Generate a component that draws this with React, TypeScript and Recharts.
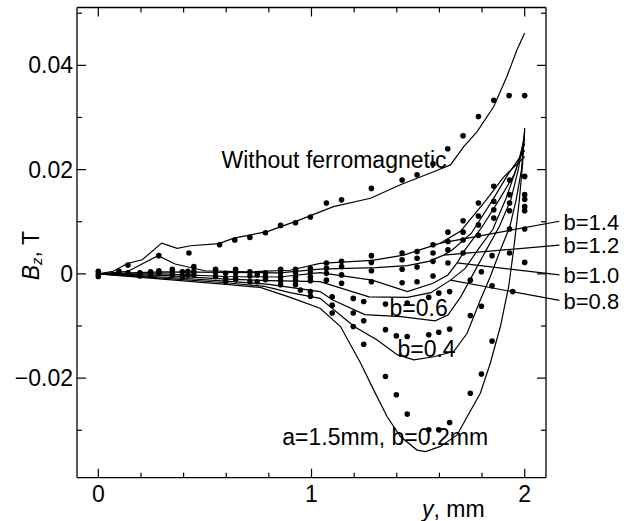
import React from 'react';
import { ComposedChart, Line, Scatter, XAxis, YAxis, ReferenceLine, ReferenceDot, Label } from 'recharts';

type P = { x: number; v: number };
const pts = (a: number[][]): P[] => a.map(([x, v]) => ({ x, v }));

// tick values
const xTicks = [0, 0.2, 0.4, 0.6, 0.8, 1, 1.2, 1.4, 1.6, 1.8, 2];
const xMajor = [0, 1, 2];
const yTicks = [-0.03, -0.02, -0.01, 0, 0.01, 0.02, 0.03, 0.04, 0.05];
const yMajor: Record<string, string> = { '-0.02': '\u22120.02', '0': '0', '0.02': '0.02', '0.04': '0.04' };

// computed curves
const curveWithout = pts([[0,0],[0.07,0.0005],[0.136,0.002],[0.206,0.0027],[0.297,0.0059],[0.37,0.0049],[0.433,0.0054],[0.565,0.0058],[0.636,0.00685],[0.792,0.0081],[0.948,0.0104],[1.103,0.0129],[1.277,0.0145],[1.417,0.0171],[1.573,0.0196],[1.652,0.0209],[1.714,0.0244],[1.777,0.0273],[1.855,0.0321],[1.917,0.0379],[1.964,0.043],[2.0,0.0462]]);
const curveB14 = pts([[0,0],[0.14,0.0005],[0.28,0.0035],[0.36,0.0019],[0.5,0.0006],[0.7,0.0004],[0.9,0.0007],[1.04,0.002],[1.285,0.0026],[1.433,0.0036],[1.605,0.0059],[1.7,0.0082],[1.82,0.0142],[1.9,0.0185],[2.0,0.0225]]);
const curveB12 = pts([[0,0],[0.3,0.0004],[0.6,0.0003],[0.85,0.0002],[1.04,0.0009],[1.3,0.0012],[1.45,0.0016],[1.55,0.0024],[1.62,0.0036],[1.66,0.0046],[1.75,0.0078],[1.85,0.0142],[1.92,0.019],[2.0,0.0237]]);
const curveB10 = pts([[0,0],[0.3,0.0],[0.6,-0.0005],[0.85,-0.0006],[1.04,0.00025],[1.285,-0.0012],[1.45,-0.0034],[1.57,-0.0018],[1.64,-0.0002],[1.683,0.0021],[1.72,0.0046],[1.8,0.009],[1.88,0.0142],[1.95,0.019],[2.0,0.025]]);
const curveB08 = pts([[0,0],[0.3,-0.0003],[0.6,-0.001],[0.8,-0.0013],[1.04,-0.0015],[1.27,-0.0044],[1.45,-0.0045],[1.56,-0.0036],[1.652,-0.0012],[1.72,0.001],[1.78,0.0046],[1.85,0.0085],[1.91,0.0142],[1.96,0.02],[2.0,0.026]]);
const curveB06 = pts([[0,0],[0.3,-0.0006],[0.6,-0.0014],[0.8,-0.002],[0.9,-0.0026],[1.04,-0.0034],[1.1,-0.005],[1.25,-0.0078],[1.42,-0.0082],[1.58,-0.009],[1.64,-0.0079],[1.7,-0.0044],[1.76,0.0001],[1.82,0.0046],[1.88,0.009],[1.935,0.0142],[1.97,0.02],[2.0,0.027]]);
const curveB04 = pts([[0,0],[0.3,-0.0008],[0.6,-0.0017],[0.78,-0.0024],[0.9,-0.0036],[1.04,-0.0047],[1.2,-0.0101],[1.308,-0.0127],[1.402,-0.0155],[1.48,-0.0165],[1.573,-0.0159],[1.667,-0.0149],[1.73,-0.0114],[1.792,-0.005],[1.839,-0.0005],[1.886,0.0046],[1.93,0.009],[1.96,0.0142],[1.985,0.02],[2.0,0.0275]]);
const curveB02 = pts([[0,0],[0.3,-0.001],[0.6,-0.002],[0.76,-0.0026],[0.9,-0.0045],[1.04,-0.0066],[1.136,-0.0101],[1.23,-0.0171],[1.292,-0.0223],[1.355,-0.0274],[1.417,-0.0312],[1.495,-0.0338],[1.535,-0.0341],[1.605,-0.0331],[1.683,-0.0309],[1.73,-0.0274],[1.792,-0.0229],[1.839,-0.0171],[1.886,-0.0101],[1.925,-0.0024],[1.948,0.0046],[1.975,0.0142],[1.99,0.021],[2.0,0.028]]);

// measured points
const dotsOrigin = pts([[0,0.0005],[0,0],[0,-0.0005]]);
const dotsWithout = pts([[0.139,0.0017],[0.425,0.004],[0.569,0.0056],[0.64,0.0065],[0.711,0.007],[0.784,0.0079],[0.855,0.0093],[0.925,0.0098],[0.995,0.0109],[1.07,0.0136],[1.141,0.0142],[1.281,0.0164],[1.425,0.018],[1.495,0.019],[1.57,0.0211],[1.639,0.024],[1.711,0.0265],[1.783,0.0302],[1.855,0.0333],[1.927,0.0342],[2.0,0.0342]]);
const dotsNear = pts([[0.097,0.0005],[0.097,0.0001],[0.139,0.0002],[0.195,0.0002],[0.195,-0.0004],[0.245,0.0004],[0.245,-0.0002],[0.284,0.0035],[0.284,0.0006],[0.284,0.0001],[0.347,0.0009],[0.347,0.0004],[0.347,-0.0002],[0.394,0.0004],[0.394,-0.0005],[0.42,0.0005],[0.42,-0.0002],[0.448,0.0014],[0.448,0.0005],[0.448,-0.0002],[0.55,0.0009],[0.55,0.0003],[0.55,-0.0005],[0.597,0.0001],[0.597,-0.0008],[0.597,-0.0015],[0.644,0.0009],[0.644,0.0002],[0.644,-0.0006],[0.644,-0.0011],[0.711,0.0004],[0.711,-0.0004],[0.711,-0.0015],[0.745,-0.0002],[0.745,-0.0015],[0.784,0.0002],[0.784,-0.0005],[0.784,-0.0011],[0.855,0.0009],[0.855,0.0002],[0.855,-0.0006],[0.855,-0.0013],[0.855,-0.0021],[0.925,0.0009],[0.925,0.0002],[0.925,-0.0006],[0.925,-0.0013],[0.925,-0.0021],[0.948,-0.0031],[0.995,0.001],[0.995,0.0002],[0.995,-0.0006],[0.995,-0.0013],[0.995,-0.0034],[0.995,-0.0043]]);
const dotsUpper = pts([[1.07,0.0021],[1.07,0.0011],[1.07,0.0001],[1.07,-0.0012],[1.141,0.0024],[1.141,0.0014],[1.141,-0.0002],[1.141,-0.0018],[1.281,0.0035],[1.281,0.0022],[1.281,0.0006],[1.281,-0.0015],[1.425,0.004],[1.425,0.0027],[1.425,0.0009],[1.425,-0.0017],[1.495,0.0043],[1.495,0.003],[1.495,0.0013],[1.495,-0.0015],[1.57,0.0056],[1.57,0.004],[1.57,0.0024],[1.57,-0.0004],[1.64,0.008],[1.64,0.0062],[1.64,0.0046],[1.64,0.0021],[1.711,0.0102],[1.711,0.008],[1.711,0.0065],[1.711,0.004],[1.783,0.0136],[1.783,0.0111],[1.783,0.0094],[1.783,0.0074],[1.855,0.0168],[1.855,0.0139],[1.855,0.0123],[1.855,0.0107],[1.929,0.018],[1.929,0.0152],[1.929,0.0136],[1.929,0.0121],[2.0,0.0187],[2.0,0.0152],[2.0,0.0143],[2.0,0.0129],[2.0,0.0121]]);
const dotsLower = pts([[1.097,-0.0044],[1.097,-0.006],[1.097,-0.0075],[1.196,-0.0047],[1.196,-0.0075],[1.196,-0.0101],[1.245,-0.0053],[1.245,-0.009],[1.245,-0.0135],[1.347,-0.0058],[1.347,-0.0107],[1.347,-0.0197],[1.398,-0.0119],[1.398,-0.0232],[1.449,-0.0056],[1.449,-0.012],[1.449,-0.0269],[1.55,-0.0045],[1.55,-0.0117],[1.55,-0.0299],[1.597,-0.0037],[1.597,-0.0112],[1.597,-0.0299],[1.648,-0.0034],[1.648,-0.0106],[1.648,-0.0285],[1.745,-0.0012],[1.745,-0.008],[1.745,-0.0229],[1.797,0.0004],[1.797,-0.0062],[1.797,-0.0192],[1.847,0.0035],[1.847,-0.0023],[1.847,-0.0129],[1.929,0.0086],[1.929,0.004],[1.944,-0.0034],[2.0,0.0086],[2.0,0.0022]]);

// annotation labels: [x, v] at text start / baseline
const labels: { text: string; x: number; v: number }[] = [
  { text: 'Without ferromagnetic', x: 0.578, v: 0.0203 },
  { text: 'b=1.4', x: 2.182, v: 0.0084 },
  { text: 'b=1.2', x: 2.182, v: 0.004 },
  { text: 'b=1.0', x: 2.182, v: -0.0017 },
  { text: 'b=0.8', x: 2.182, v: -0.0067 },
  { text: 'b=0.6', x: 1.366, v: -0.0081 },
  { text: 'b=0.4', x: 1.403, v: -0.0159 },
  { text: 'a=1.5mm, b=0.2mm', x: 0.863, v: -0.0328 },
];
// leader lines [from label, to curve]
const leaders: number[][][] = [
  [[2.163, 0.0101], [1.605, 0.0059]],
  [[2.163, 0.0055], [1.62, 0.0036]],
  [[2.163, -0.0002], [1.683, 0.0021]],
  [[2.163, -0.0051], [1.652, -0.0012]],
];

const FONT = "'Liberation Sans', Arial, sans-serif";
const FS = 23;
const MAJ = 9;
const MIN = 5;

const XTick = (side: 'bottom' | 'top') => (props: any) => {
  const { x, y, payload } = props;
  const major = xMajor.includes(payload.value);
  const len = major ? MAJ : MIN;
  const dir = side === 'bottom' ? -1 : 1;
  return (
    <g>
      <line x1={x} y1={y} x2={x} y2={y + dir * len} stroke="#000" strokeWidth={1.2} />
      {side === 'bottom' && major ? (
        <text x={x} y={y + 24.5} textAnchor="middle" fontFamily={FONT} fontSize={FS} fill="#000">
          {String(payload.value)}
        </text>
      ) : null}
    </g>
  );
};

const YTick = (side: 'left' | 'right') => (props: any) => {
  const { x, y, payload } = props;
  const key = String(Math.round(payload.value * 100) / 100);
  const label = yMajor[key];
  const major = label !== undefined;
  const len = major ? MAJ : MIN;
  const dir = side === 'left' ? 1 : -1;
  return (
    <g>
      <line x1={x} y1={y} x2={x + dir * len} y2={y} stroke="#000" strokeWidth={1.2} />
      {side === 'left' && major ? (
        <text x={x - 4} y={y + 8} textAnchor="end" fontFamily={FONT} fontSize={FS} fill="#000">
          {label}
        </text>
      ) : null}
    </g>
  );
};

const dotShape = (props: any) => <circle cx={props.cx} cy={props.cy} r={2.8} fill="#000" />;

const TextAt = (props: any) => {
  const { viewBox, text, size } = props;
  return (
    <text x={viewBox.x} y={viewBox.y} fontFamily={FONT} fontSize={size || FS} fill="#000">
      {text}
    </text>
  );
};

const YLabel = (props: any) => {
  const { viewBox } = props;
  const cx = 31;
  const cy = viewBox.y + viewBox.height / 2 + 13;
  return (
    <text x={cx} y={cy} transform={`rotate(-90 ${cx} ${cy})`} textAnchor="middle" fontFamily={FONT} fontSize={FS} fill="#000" dominantBaseline="central">
      <tspan fontStyle="italic">B</tspan>
      <tspan fontStyle="italic" fontSize={15} dy={5}>z</tspan>
      <tspan dy={-5}>, T</tspan>
    </text>
  );
};

const XLabel = (props: any) => {
  const { viewBox } = props;
  return (
    <text x={viewBox.x + 345} y={viewBox.y + 39} fontFamily={FONT} fontSize={FS} fill="#000">
      <tspan fontStyle="italic">y</tspan>
      <tspan>, mm</tspan>
    </text>
  );
};

const curves = [curveWithout, curveB14, curveB12, curveB10, curveB08, curveB06, curveB04, curveB02];
const dotSets = [dotsOrigin, dotsWithout, dotsNear, dotsUpper, dotsLower];

export default function App() {
  const axisLine = { stroke: '#000', strokeWidth: 1.3 };
  return (
    <div style={{ position: 'absolute', left: 0, top: 0, background: '#fff' }}>
      <ComposedChart width={635} height={521} margin={{ top: 6.5, right: 88, bottom: 0, left: 0 }}>
        <XAxis type="number" dataKey="x" domain={[-0.1, 2.1]} allowDataOverflow ticks={xTicks} interval={0}
          tick={XTick('bottom')} tickSize={0} tickMargin={0} tickLine={false} axisLine={axisLine} height={43.3}>
          <Label content={<XLabel />} />
        </XAxis>
        <XAxis xAxisId="top" orientation="top" type="number" dataKey="x" domain={[-0.1, 2.1]} allowDataOverflow ticks={xTicks} interval={0}
          tick={XTick('top')} tickSize={0} tickMargin={0} tickLine={false} axisLine={axisLine} height={1} />
        <YAxis type="number" dataKey="v" domain={[-0.0391, 0.0511]} allowDataOverflow ticks={yTicks} interval={0}
          tick={YTick('left')} tickSize={0} tickMargin={0} tickLine={false} axisLine={axisLine} width={77}>
          <Label content={<YLabel />} />
        </YAxis>
        <YAxis yAxisId="right" orientation="right" type="number" dataKey="v" domain={[-0.0391, 0.0511]} allowDataOverflow ticks={yTicks} interval={0}
          tick={YTick('right')} tickSize={0} tickMargin={0} tickLine={false} axisLine={axisLine} width={1} />
        {/* invisible series binding the mirrored frame axes */}
        <Line xAxisId="top" yAxisId="right" data={curveWithout} dataKey="v" stroke="none" dot={false} activeDot={false} isAnimationActive={false} legendType="none" />
        {curves.map((c, i) => (
          <Line key={'c' + i} data={c} dataKey="v" type="linear" stroke="#000" strokeWidth={1.2} dot={false} activeDot={false} isAnimationActive={false} />
        ))}
        {dotSets.map((d, i) => (
          <Scatter key={'d' + i} data={d} dataKey="v" fill="#000" shape={dotShape} isAnimationActive={false} />
        ))}
        {leaders.map((s, i) => (
          <ReferenceLine key={'l' + i} segment={[{ x: s[0][0], y: s[0][1] }, { x: s[1][0], y: s[1][1] }]} stroke="#000" strokeWidth={1.2} ifOverflow="visible" />
        ))}
        {labels.map((l, i) => (
          <ReferenceDot key={'t' + i} x={l.x} y={l.v} r={0} fill="none" stroke="none" ifOverflow="visible"
            label={<TextAt text={l.text} size={l.x > 2.1 ? 22 : FS} />} />
        ))}
      </ComposedChart>
    </div>
  );
}
